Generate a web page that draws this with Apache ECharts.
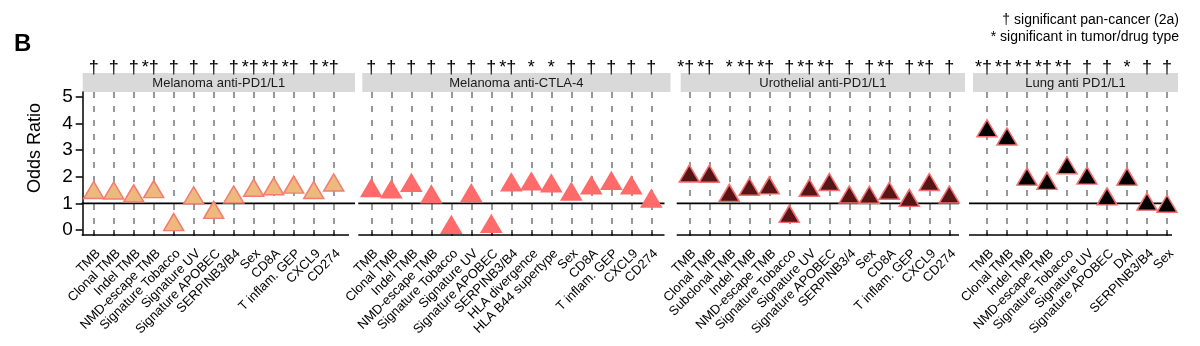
<!DOCTYPE html>
<html>
<head>
<meta charset="utf-8">
<script src="https://cdn.jsdelivr.net/npm/echarts@6/dist/echarts.min.js"></script>
<style>html,body{margin:0;padding:0;background:#fff;}#chart{width:1200px;height:346px;}</style>
</head>
<body>
<div id="chart"></div>
<script>
// ---------------- data ----------------
const panelTitles = ['Melanoma anti-PD1/L1', 'Melanoma anti-CTLA-4', 'Urothelial anti-PD1/L1', 'Lung anti PD1/L1'];

const cats1 = ['TMB','Clonal TMB','Indel TMB','NMD-escape TMB','Signature Tobacco','Signature UV','Signature APOBEC','SERPINB3/B4','Sex','CD8A','T inflam. GEP','CXCL9','CD274'];
const vals1 = [1.40, 1.38, 1.27, 1.43, 0.19, 1.20, 0.65, 1.23, 1.48, 1.54, 1.60, 1.40, 1.68];
const sig1  = ['†','†','†','*†','†','†','†','†','*†','*†','*†','†','*†'];

const cats2 = ['TMB','Clonal TMB','Indel TMB','NMD-escape TMB','Signature Tobacco','Signature UV','Signature APOBEC','SERPINB3/B4','HLA divergence','HLA B44 supertype','Sex','CD8A','T inflam. GEP','CXCL9','CD274'];
const vals2 = [1.47, 1.42, 1.67, 1.24, 0.09, 1.28, 0.13, 1.69, 1.72, 1.65, 1.34, 1.57, 1.74, 1.57, 1.08];
const sig2  = ['†','†','†','†','†','†','†','*†','*','*','†','†','†','†','†'];

const cats3 = ['TMB','Clonal TMB','Subclonal TMB','Indel TMB','NMD-escape TMB','Signature Tobacco','Signature UV','Signature APOBEC','SERPINB3/4','Sex','CD8A','T inflam. GEP','CXCL9','CD274'];
const vals3 = [2.02, 2.01, 1.29, 1.52, 1.57, 0.50, 1.48, 1.70, 1.23, 1.22, 1.37, 1.10, 1.70, 1.23];
const sig3  = ['*†','*†','*','*†','*†','†','*†','*†','†','†','*†','†','*†','†'];

const cats4 = ['TMB','Clonal TMB','Indel TMB','NMD-escape TMB','Signature Tobacco','Signature UV','Signature APOBEC','DAI','SERPINB3/B4','Sex'];
const vals4 = [3.72, 3.41, 1.90, 1.74, 2.33, 1.94, 1.16, 1.90, 0.96, 0.88];
const sig4  = ['*†','*†','*†','*†','*†','†','†','*','†','†'];

const yTicks = [0, 1, 2, 3, 4, 5];
const refValue = 1;
const legendLines = ['† significant pan-cancer (2a)', '* significant in tumor/drug type'];

// ---------------- layout / style ----------------
const FONT = '"Liberation Sans", Arial, Helvetica, sans-serif';
const cats = [cats1, cats2, cats3, cats4];
const vals = [vals1, vals2, vals3, vals4];
const sigs = [sig1, sig2, sig3, sig4];
const strips = [[82.7, 355], [362.3, 670.5], [680.7, 965], [973, 1178]];
const firstTick = [93.7, 371.3, 689.3, 987];
const step = 20;
const gTop = 92, gH = 143;
const yMin = -0.19, yMax = 5.19;
const fills = ['#EDB97C', '#FF6A6A', '#581515', '#000000'];
const strokes = ['#F47C72', '#FF6A6A', '#F27070', '#F27070'];

const chart = echarts.init(document.getElementById('chart'), null, {renderer: 'canvas', width: 1200, height: 346});

const grids = cats.map((c, i) => ({left: firstTick[i], top: gTop, width: step * (c.length - 1), height: gH}));

const bottomAxes = cats.map((c, i) => ({
  gridIndex: i, type: 'category', data: c, boundaryGap: false, position: 'bottom',
  axisLine: {show: false},
  axisTick: {show: true, interval: 0, length: 6, lineStyle: {color: '#333', width: 1.5}},
  axisLabel: {interval: 0, rotate: 45, fontSize: 13, color: '#000', margin: 12, fontFamily: FONT,
    align: 'right', verticalAlign: 'top'},
  splitLine: {show: true, interval: 0, lineStyle: {type: [6, 8], color: '#7f7f7f', width: 1.6}}
}));

function sigFormatter(i) {
  return (v, idx) => {
    const s = sigs[i][idx];
    if (s.length === 2) return '{s|' + s + '}{h|*}';
    return '{s|' + s + '}';
  };
}
const topAxes = cats.map((c, i) => ({
  gridIndex: i, type: 'category', data: c, boundaryGap: false, position: 'top',
  axisLine: {show: false}, axisTick: {show: false}, splitLine: {show: false},
  axisLabel: {interval: 0, margin: 15, formatter: sigFormatter(i),
    rich: {
      s: {fontSize: 18, color: '#000', fontFamily: FONT},
      h: {fontSize: 18, color: 'rgba(0,0,0,0)', fontFamily: FONT}
    }}
}));

const yAxes = cats.map((c, i) => ({
  gridIndex: i, type: 'value', min: yMin, max: yMax, show: i === 0,
  offset: i === 0 ? firstTick[0] - strips[0][0] : 0,
  axisLine: {show: true, lineStyle: {color: '#000', width: 1.5}},
  axisTick: {show: true, length: 7, customValues: yTicks, lineStyle: {color: '#000', width: 1.5}},
  axisLabel: {customValues: yTicks, fontSize: 19, color: '#000', margin: 10, fontFamily: FONT},
  splitLine: {show: false}
}));

const series = cats.map((c, i) => ({
  type: 'scatter', xAxisIndex: i, yAxisIndex: i, z: 5,
  data: vals[i],
  symbol: 'triangle', symbolSize: [20, 17], symbolOffset: [0, -2.8],
  itemStyle: {color: fills[i], borderColor: strokes[i], borderWidth: 1.5, opacity: 1}
}));

chart.setOption({
  animation: false,
  backgroundColor: '#fff',
  textStyle: {fontFamily: FONT},
  grid: grids,
  xAxis: bottomAxes.concat(topAxes),
  yAxis: yAxes,
  series: series
});

// graphics: strips, reference line, axis lines, texts
const g = [];
cats.forEach((c, i) => {
  const [L, R] = strips[i];
  g.push({type: 'rect', shape: {x: L, y: 73, width: R - L, height: 19}, style: {fill: '#D9D9D9'}, z: 0});
  g.push({type: 'text', x: (L + R) / 2, y: 83, style: {text: panelTitles[i], font: '13px ' + FONT, fill: '#1A1A1A', textAlign: 'center', textVerticalAlign: 'middle'}, z: 1});
  const y1 = chart.convertToPixel({gridIndex: i}, [0, refValue])[1];
  const y0 = chart.convertToPixel({gridIndex: i}, [0, yMin])[1];
  const xs = i === 0 ? L - 1 : L - 4;
  const xe = R - 6;
  g.push({type: 'line', shape: {x1: xs, y1: y1, x2: i === 0 ? R : xe, y2: y1}, style: {stroke: '#000', lineWidth: 1.6}, z: 2});
  g.push({type: 'line', shape: {x1: xs, y1: y0, x2: xe, y2: y0}, style: {stroke: '#000', lineWidth: 1.6}, z: 2});
});
g.push({type: 'text', x: 35, y: 148, rotation: Math.PI / 2, style: {text: 'Odds Ratio', font: '18px ' + FONT, fill: '#000', textAlign: 'center', textVerticalAlign: 'middle'}});
g.push({type: 'text', x: 14, y: 44, style: {text: 'B', font: 'bold 24px ' + FONT, fill: '#000', textAlign: 'left', textVerticalAlign: 'middle'}});
g.push({type: 'text', x: 1179, y: 20, style: {text: legendLines[0], font: '14px ' + FONT, fill: '#000', textAlign: 'right', textVerticalAlign: 'middle'}});
g.push({type: 'text', x: 1179, y: 37, style: {text: legendLines[1], font: '14px ' + FONT, fill: '#000', textAlign: 'right', textVerticalAlign: 'middle'}});

chart.setOption({graphic: g});
</script>
</body>
</html>
